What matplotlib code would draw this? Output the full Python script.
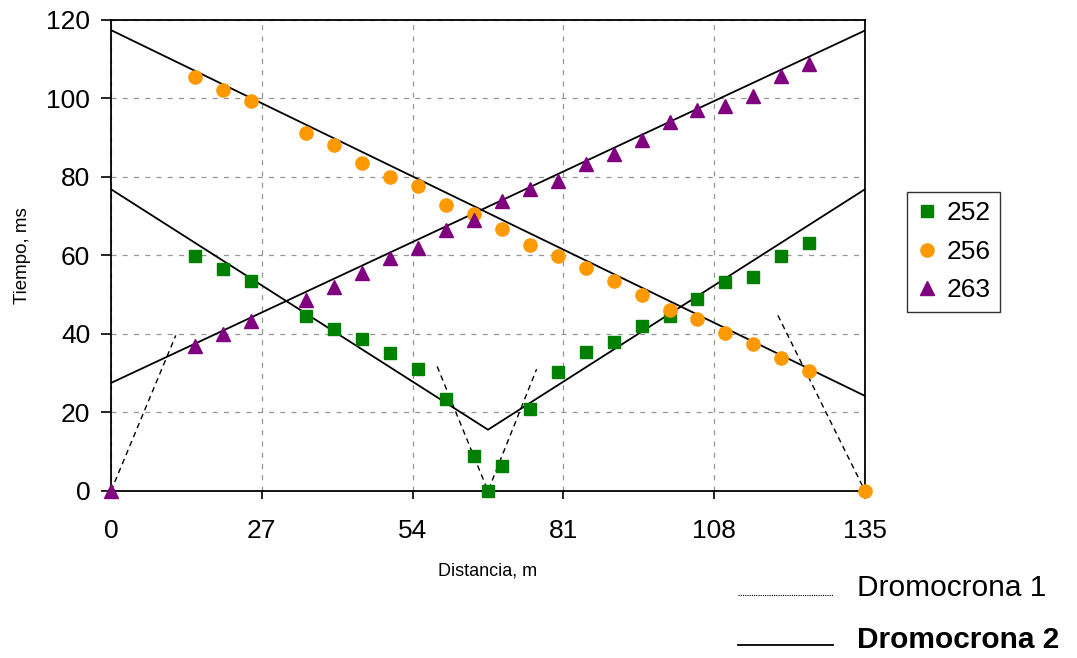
import matplotlib
matplotlib.use("Agg")
from matplotlib import pyplot as plt
from matplotlib.lines import Line2D

plt.rcParams['font.family'] = ['Liberation Sans', 'DejaVu Sans']

W, H = 1077, 658

# geophone stations (m)
stations = [15, 20, 25, 35, 40, 45, 50, 55, 60, 65, 70, 75, 80,
            85, 90, 95, 100, 105, 110, 115, 120, 125]

# shot 252 (centre shot, 67.5 m)
x252 = [15, 20, 25, 35, 40, 45, 50, 55, 60, 65, 67.5, 70, 75, 80,
        85, 90, 95, 100, 105, 110, 115, 120, 125]
t252 = [59.8, 56.5, 53.4, 44.5, 41.3, 38.8, 35.0, 31.0, 23.3, 8.8, 0.0, 6.3,
        20.8, 30.4, 35.4, 37.8, 42.0, 44.6, 48.8, 53.2, 54.5, 59.7, 63.0]

# shot 256 (end shot, 135 m)
x256 = stations + [135]
t256 = [105.3, 102.0, 99.2, 91.0, 88.1, 83.5, 79.9, 77.5, 72.9, 70.6, 66.8,
        62.7, 59.8, 56.8, 53.4, 49.8, 46.0, 43.7, 40.2, 37.4, 33.9, 30.5, 0.0]

# shot 263 (start shot, 0 m)
x263 = [0] + stations
t263 = [0.0, 36.8, 40.0, 43.2, 48.5, 52.0, 55.5, 59.3, 61.8, 66.3, 68.9, 73.8,
        76.9, 78.8, 83.3, 85.8, 89.4, 94.0, 97.0, 98.1, 100.5, 105.5, 108.7]

# Dromocrona 1 - direct wave
d1_segments = [
    ([0, 11.6], [0, 39.6]),
    ([58.4, 67.5, 76.2], [31.7, 0, 31.0]),
    ([119.4, 135], [44.7, 0]),
]

# Dromocrona 2 - refracted wave
d2_segments = [
    ([0, 135], [117.3, 24.2]),
    ([0, 135], [27.5, 117.2]),
    ([0, 67.5, 135], [76.8, 15.6, 76.8]),
]

xticks = [0, 27, 54, 81, 108, 135]
yticks = [0, 20, 40, 60, 80, 100, 120]

fig = plt.figure(figsize=(W / 100, H / 100), dpi=100)
ax = fig.add_axes([111 / W, 1 - 491 / H, (865 - 111) / W, (491 - 19.5) / H])

for xs, ys in d1_segments:
    ax.plot(xs, ys, color="black", linestyle=(0, (4, 3)), linewidth=1.0, zorder=2)
for xs, ys in d2_segments:
    ax.plot(xs, ys, color="black", linestyle="-", linewidth=1.3, zorder=2)

ax.plot(x252, t252, linestyle="None", marker="s", markersize=9, color="#008000",
        label="252", clip_on=False, zorder=3)
ax.plot(x256, t256, linestyle="None", marker="o", markersize=9.5, color="#FF9900",
        label="256", clip_on=False, zorder=3)
ax.plot(x263, t263, linestyle="None", marker="^", markersize=10, color="#800080",
        label="263", clip_on=False, zorder=3)

ax.set_xlim(0, 135)
ax.set_ylim(0, 120)
ax.set_xticks(xticks)
ax.set_yticks(yticks)
ax.grid(True, color="#959595", linestyle=(0, (4, 5)), linewidth=0.9)
ax.set_axisbelow(True)
for s in ax.spines.values():
    s.set_color("black")
    s.set_linewidth(1.3)

ax.tick_params(axis="x", direction="out", length=6, width=1.2, labelsize=19, pad=14)
ax.tick_params(axis="y", direction="out", length=7, width=1.2, labelsize=19, pad=8)

ax.set_xlabel("Distancia, m", fontsize=13, labelpad=14)
ax.set_ylabel("Tiempo, ms", fontsize=13.5, labelpad=11)

leg = fig.legend(loc="upper left", bbox_to_anchor=(907 / W, 1 - 192 / H),
                 fontsize=19, frameon=True, fancybox=False, edgecolor="black",
                 handlelength=0.8, handletextpad=0.35, borderpad=0.35,
                 labelspacing=0.55, borderaxespad=0)
leg.get_frame().set_linewidth(1.0)

# line legend below the plot
fig.add_artist(Line2D([738 / W, 833 / W], [1 - 595 / H] * 2, transform=fig.transFigure,
                      color="black", linestyle=(0, (1, 1)), linewidth=0.8))
fig.text(857 / W, 1 - 588 / H, "Dromocrona 1", fontsize=21.5, va="center")
fig.add_artist(Line2D([738 / W, 833 / W], [1 - 645 / H] * 2, transform=fig.transFigure,
                      color="black", linestyle="-", linewidth=1.3))
fig.text(857 / W, 1 - 640 / H, "Dromocrona 2", fontsize=21.5, va="center", fontweight="bold")

fig.savefig("out.png", dpi=100)
